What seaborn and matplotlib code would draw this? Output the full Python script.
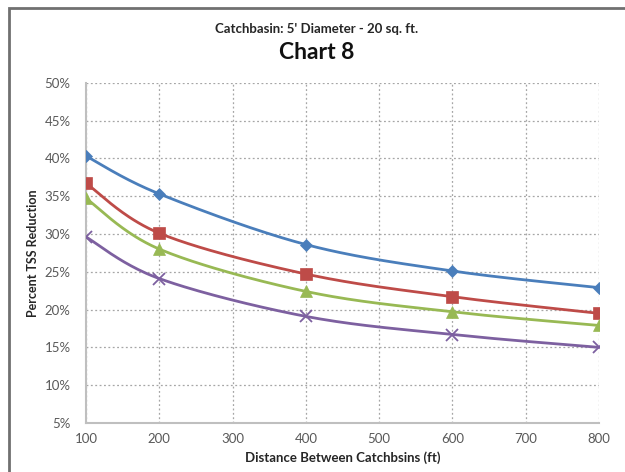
import numpy as np
import pandas as pd
import matplotlib
matplotlib.use("Agg")
import matplotlib.pyplot as plt
from matplotlib.patches import Rectangle
from matplotlib.ticker import FuncFormatter, MultipleLocator
import seaborn as sns

# Distance between catchbasins (ft)
distance = [100, 200, 400, 600, 800]

# Percent TSS reduction for each series
series_a = [40.3, 35.3, 28.6, 25.1, 22.9]
series_b = [36.7, 30.1, 24.7, 21.7, 19.5]
series_c = [34.7, 28.0, 22.4, 19.7, 17.9]
series_d = [29.6, 24.1, 19.1, 16.7, 15.0]

series_names = ["A", "B", "C", "D"]
series_values = [series_a, series_b, series_c, series_d]
colors = ["#4a7ebb", "#be4b48", "#98b954", "#7d60a0"]
markers = ["D", "s", "^", "x"]
marker_sizes = [6.5, 8, 8, 8]

title_text = "Catchbasin: 5' Diameter - 20 sq. ft."
chart_text = "Chart 8"
x_label = "Distance Between Catchbsins (ft)"
y_label = "Percent TSS Reduction"

df = pd.DataFrame(
    {
        "distance": np.tile(distance, len(series_names)),
        "value": np.concatenate(series_values),
        "series": np.repeat(series_names, len(distance)),
    }
)


def smooth_curve(xs, ys, steps=40):
    """Excel-style smoothed line through the points (Catmull-Rom Bezier)."""
    xs = np.asarray(xs, float)
    ys = np.asarray(ys, float)
    pts = np.column_stack([xs, ys])
    out = []
    n = len(pts)
    for i in range(n - 1):
        p0 = pts[i - 1] if i > 0 else pts[i]
        p1 = pts[i]
        p2 = pts[i + 1]
        p3 = pts[i + 2] if i + 2 < n else pts[i + 1]
        c1 = p1 + (p2 - p0) / 6.0
        c2 = p2 - (p3 - p1) / 6.0
        t = np.linspace(0, 1, steps)[:, None]
        seg = ((1 - t) ** 3) * p1 + 3 * ((1 - t) ** 2) * t * c1 + 3 * (1 - t) * t ** 2 * c2 + t ** 3 * p2
        out.append(seg if i == 0 else seg[1:])
    seg = np.vstack(out)
    return seg[:, 0], seg[:, 1]


sns.set_style("white")
plt.rcParams["font.family"] = ["Lato", "DejaVu Sans"]

fig = plt.figure(figsize=(6.25, 4.72), dpi=100)
ax = fig.add_axes([0.1376, 0.1038, 0.8208, 0.721])

for name, color, marker, ms in zip(series_names, colors, markers, marker_sizes):
    sub = df[df["series"] == name]
    sx, sy = smooth_curve(sub["distance"], sub["value"])
    ax.plot(sx, sy, color=color, lw=2.0, zorder=3, solid_capstyle="round")
    sns.lineplot(
        data=sub, x="distance", y="value", ax=ax, color=color,
        marker=marker, markersize=ms, linestyle="", markeredgecolor=color,
        markeredgewidth=1.3 if marker == "x" else 0.5, zorder=4, legend=False,
    )

ax.set_xlim(100, 800)
ax.set_ylim(5, 50)
ax.xaxis.set_major_locator(MultipleLocator(100))
ax.yaxis.set_major_locator(MultipleLocator(5))
ax.yaxis.set_major_formatter(FuncFormatter(lambda v, p: f"{v:.0f}%"))

ax.grid(True, color="#a6a6a6", linestyle=(0, (1.5, 2)), linewidth=0.9)
ax.set_axisbelow(True)
for side in ["top", "right"]:
    ax.spines[side].set_visible(False)
for side in ["left", "bottom"]:
    ax.spines[side].set_color("#bfbfbf")
    ax.spines[side].set_linewidth(1.5)

ax.tick_params(axis="both", length=0, labelsize=9.5, labelcolor="#595959")
ax.tick_params(axis="x", pad=7)
ax.tick_params(axis="y", pad=11)

ax.set_xlabel(x_label, fontsize=9.5, fontweight="bold", color="#262626", labelpad=5)
ax.set_ylabel(y_label, fontsize=9, fontweight="bold", color="#262626", labelpad=4)

fig.text(0.507, 0.938, title_text, ha="center", va="center", fontsize=9.5, fontweight="bold", color="#262626")
fig.text(0.507, 0.889, chart_text, ha="center", va="center", fontsize=16.5, fontweight="bold", color="#111111")

# Outer frame (top and left edges visible)
fig.patches.append(
    Rectangle((9 / 625, -0.1), 1.2, 1 - 8 / 472 + 0.1, transform=fig.transFigure,
              fill=False, edgecolor="#707070", linewidth=2.0, zorder=10)
)

fig.savefig("out.png", dpi=100)
